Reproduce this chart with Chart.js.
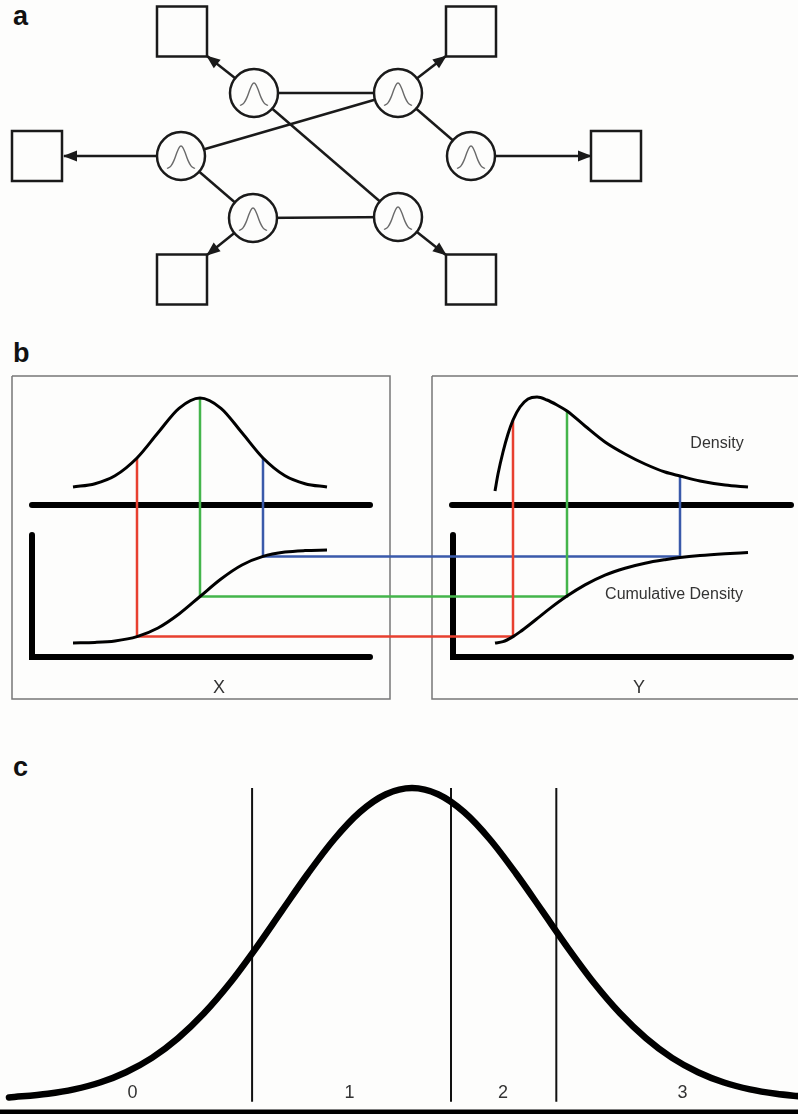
<!DOCTYPE html>
<html>
<head>
<meta charset="utf-8">
<script src="https://cdn.jsdelivr.net/npm/chart.js@4.4.0/dist/chart.umd.min.js"></script>
<style>
  body { margin: 0; background: #fdfdfc; width: 798px; height: 1114px; position: relative; overflow: hidden; font-family: "Liberation Sans", Arial, sans-serif; }
  canvas { position: absolute; left: 0; }
  .tag { position: absolute; left: 13px; font-weight: bold; font-size: 27px; line-height: 1; color: #111; }
</style>
</head>
<body>
<div class="tag" style="top:3px">a</div>
<div class="tag" style="top:340px">b</div>
<div class="tag" style="top:754px">c</div>
<canvas id="netChart" width="798" height="320" style="top:0"></canvas>
<canvas id="copulaChart" width="798" height="420" style="top:300px"></canvas>
<canvas id="threshChart" width="798" height="374" style="top:740px"></canvas>
<script>
// ---- panel a : network (diagram units) ----
const nodeX = [254, 181, 253, 398, 471, 398];
const nodeY = [93, 156, 218, 93, 156, 217];
const boxX = [182, 37, 182, 471, 616, 471];
const boxY = [31.5, 156, 279.5, 31.5, 156, 279.5];
const tipX = [207, 64, 207, 446, 591, 446];
const tipY = [56, 156, 255, 56, 156, 255];
const links = [[0, 3], [1, 3], [0, 5], [1, 2], [2, 5], [3, 4]];
const bumpDX = [-14, -10, -7, -4, -2, 0, 2, 4, 7, 10, 14];
const bumpDY = [12.5, 9.9, 4.4, -3.7, -8.2, -10, -8.2, -3.7, 4.4, 9.9, 12.5];

// ---- panel b : density / cumulative density (diagram units) ----
const leftX = [73, 95, 115, 137, 158, 179, 200, 221, 242, 263, 285, 305, 327];
const leftDensity = [187, 183.7, 175.8, 158, 132.8, 108.3, 98, 108.3, 132.8, 158, 175.8, 183.7, 187];
const leftCdf = [342.9, 342.4, 340.9, 336.6, 328, 314, 296.5, 279, 265, 256.4, 252.1, 250.6, 250.1];
const rightDensX = [495, 498, 503, 508, 513, 520, 528, 537, 547, 557, 567, 585, 605, 625, 645, 665, 680, 700, 725, 748];
const rightDensity = [191, 174, 152, 134, 120, 107, 99, 97, 100, 105, 111, 126, 142, 154, 164, 172, 176, 181, 185, 187];
const rightCdfX = [495, 503, 513, 520, 530, 540, 550, 567, 585, 605, 625, 645, 665, 680, 700, 725, 748];
const rightCdf = [343, 341.7, 336.6, 331.9, 324.3, 316.3, 308.4, 296.1, 284.9, 275.1, 268.2, 263.2, 259.7, 257.6, 255.6, 253.8, 252.5];
const quantLeftX = [137, 200, 263];
const quantRightX = [513, 567, 680];
const quantLevel = [336.6, 296.5, 256.4];
const quantLeftTop = [158, 98, 158];
const quantRightTop = [120, 111, 176];
const quantColors = ['#e8402f', '#44b54b', '#3a5aaa'];

// ---- panel c : thresholds on a normal density ----
const bellZ = [-3.1, -2.8, -2.6, -2.4, -2.2, -2.0, -1.8, -1.6, -1.4, -1.2, -1.0, -0.8, -0.6, -0.4, -0.2, 0,
  0.2, 0.4, 0.6, 0.8, 1.0, 1.2, 1.4, 1.6, 1.8, 2.0, 2.2, 2.4, 2.6, 2.8, 3.0];
const bellDensity = [0.008, 0.020, 0.034, 0.056, 0.089, 0.135, 0.198, 0.278, 0.375, 0.487, 0.607, 0.726, 0.835, 0.923, 0.980, 1,
  0.980, 0.923, 0.835, 0.726, 0.607, 0.487, 0.375, 0.278, 0.198, 0.135, 0.089, 0.056, 0.034, 0.020, 0.011];
const cutZ = [-1.23, 0.30, 1.11];
const classNames = ['0', '1', '2', '3'];
const classZ = [-2.15, -0.48, 0.70, 2.08];

const ink = '#1a1a1a';

function baseOptions(xmin, xmax, ymin, ymax, reverse) {
  return {
    responsive: false,
    animation: false,
    events: [],
    layout: { padding: 0, autoPadding: false },
    plugins: { legend: { display: false }, tooltip: { enabled: false } },
    scales: {
      x: { type: 'linear', display: false, min: xmin, max: xmax },
      y: { type: 'linear', display: false, min: ymin, max: ymax, reverse: reverse }
    }
  };
}

function path(xs, ys, color, width, extra) {
  return Object.assign({
    data: xs.map((x, i) => ({ x: x, y: ys[i] })),
    showLine: true,
    borderColor: color,
    borderWidth: width,
    pointRadius: 0,
    tension: 0,
    fill: false
  }, extra || {});
}

// panel a
const netSets = [];
links.forEach(([a, b]) => {
  netSets.push(path([nodeX[a], nodeX[b]], [nodeY[a], nodeY[b]], ink, 2.5, { order: 3 }));
});
tipX.forEach((tx, i) => {
  netSets.push(path([nodeX[i], tx], [nodeY[i], tipY[i]], ink, 2.5, { order: 3 }));
});
netSets.push({
  data: boxX.map((x, i) => ({ x: x, y: boxY[i] })),
  pointStyle: 'rect',
  pointRadius: 35.36,
  pointBackgroundColor: '#fdfdfc',
  pointBorderColor: ink,
  pointBorderWidth: 2.5,
  order: 2
});
netSets.push({
  data: nodeX.map((x, i) => ({ x: x, y: nodeY[i] })),
  pointStyle: 'circle',
  pointRadius: 24,
  pointBackgroundColor: '#fdfdfc',
  pointBorderColor: ink,
  pointBorderWidth: 2.5,
  order: 1
});
nodeX.forEach((nx, i) => {
  netSets.push(path(bumpDX.map(d => nx + d), bumpDY.map(d => nodeY[i] + d), '#6a6a6a', 1.4,
    { order: 0, cubicInterpolationMode: 'monotone' }));
});

const arrowHeads = {
  id: 'arrowHeads',
  afterDatasetsDraw(chart) {
    const { ctx, scales: { x, y } } = chart;
    ctx.save();
    ctx.fillStyle = ink;
    tipX.forEach((tx, i) => {
      const px = x.getPixelForValue(tx), py = y.getPixelForValue(tipY[i]);
      const ox = x.getPixelForValue(nodeX[i]), oy = y.getPixelForValue(nodeY[i]);
      const a = Math.atan2(py - oy, px - ox);
      const c = Math.cos(a), s = Math.sin(a);
      ctx.beginPath();
      ctx.moveTo(px + c, py + s);
      ctx.lineTo(px - 13 * c + 5.5 * s, py - 13 * s - 5.5 * c);
      ctx.lineTo(px - 13 * c - 5.5 * s, py - 13 * s + 5.5 * c);
      ctx.closePath();
      ctx.fill();
    });
    ctx.restore();
  }
};

new Chart(document.getElementById('netChart'), {
  type: 'scatter',
  data: { datasets: netSets },
  options: baseOptions(0, 798, 0, 320, true),
  plugins: [arrowHeads]
});

// panel b
const copulaSets = [
  path([12, 390, 390, 12, 12], [76, 76, 399, 399, 76], '#777', 1.5, { order: 5 }),
  path([432, 804, 804, 432, 432], [76, 76, 399, 399, 76], '#777', 1.5, { order: 5 }),
  path([32, 370], [205, 205], '#000', 6, { order: 4, borderCapStyle: 'round' }),
  path([32, 32, 370], [235, 357, 357], '#000', 6, { order: 4, borderCapStyle: 'round', borderJoinStyle: 'miter' }),
  path([452, 791], [205, 205], '#000', 6, { order: 4, borderCapStyle: 'round' }),
  path([453, 453, 791], [235, 357, 357], '#000', 6, { order: 4, borderCapStyle: 'round', borderJoinStyle: 'miter' }),
  path(leftX, leftDensity, '#000', 3, { order: 1, cubicInterpolationMode: 'monotone' }),
  path(leftX, leftCdf, '#000', 3, { order: 1, cubicInterpolationMode: 'monotone' }),
  path(rightDensX, rightDensity, '#000', 3, { order: 1, cubicInterpolationMode: 'monotone' }),
  path(rightCdfX, rightCdf, '#000', 3, { order: 1, cubicInterpolationMode: 'monotone' })
];
quantLeftX.forEach((lx, i) => {
  copulaSets.push(path(
    [lx, lx, quantRightX[i], quantRightX[i]],
    [quantLeftTop[i], quantLevel[i], quantLevel[i], quantRightTop[i]],
    quantColors[i], 2.5, { order: 2 }));
});

const copulaText = {
  id: 'copulaText',
  afterDatasetsDraw(chart) {
    const { ctx, scales: { x, y } } = chart;
    const items = [
      ['Density', 717, 144, 16],
      ['Cumulative Density', 674, 295, 16],
      ['X', 219, 388, 18],
      ['Y', 639, 388, 18]
    ];
    ctx.save();
    ctx.fillStyle = '#333';
    ctx.textAlign = 'center';
    ctx.textBaseline = 'middle';
    items.forEach(([t, tx, ty, sz]) => {
      ctx.font = sz + 'px "Liberation Sans", Arial, sans-serif';
      ctx.fillText(t, x.getPixelForValue(tx), y.getPixelForValue(ty));
    });
    ctx.restore();
  }
};

new Chart(document.getElementById('copulaChart'), {
  type: 'scatter',
  data: { datasets: copulaSets },
  options: baseOptions(0, 798, 0, 420, true),
  plugins: [copulaText]
});

// panel c
const threshSets = [
  path(bellZ, bellDensity, '#000', 6.5, { order: 1, cubicInterpolationMode: 'monotone', borderCapStyle: 'round' }),
  path([-3.2, 3.0], [-0.0383, -0.0383], '#000', 5, { order: 2 })
];
cutZ.forEach(z => threshSets.push(path([z, z], [-0.006, 1.0], '#111', 2, { order: 3 })));

const classText = {
  id: 'classText',
  afterDatasetsDraw(chart) {
    const { ctx, scales: { x, y } } = chart;
    ctx.save();
    ctx.fillStyle = '#333';
    ctx.textAlign = 'center';
    ctx.textBaseline = 'middle';
    ctx.font = '18px "Liberation Sans", Arial, sans-serif';
    classNames.forEach((n, i) => ctx.fillText(n, x.getPixelForValue(classZ[i]), y.getPixelForValue(0.023)));
    ctx.restore();
  }
};

new Chart(document.getElementById('threshChart'), {
  type: 'scatter',
  data: { datasets: threshSets },
  options: baseOptions(-3.169, 2.969, -0.045, 1.154, false),
  plugins: [classText]
});
</script>
</body>
</html>
